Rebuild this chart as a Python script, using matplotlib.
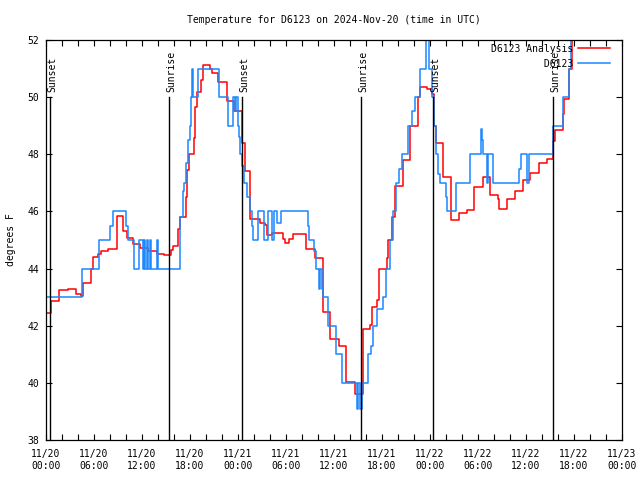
import numpy as np
import pandas as pd
import matplotlib
matplotlib.use("Agg")
import matplotlib.pyplot as plt
import matplotlib.dates as mdates

# hours since 2024-11-20 00:00 UTC, stepped values (deg F)
obs_hours = [0, 4.54, 6.63, 8.0, 8.34, 10.0, 10.19, 11.04, 11.66, 12.09, 12.25, 12.38,
             12.59, 12.71, 13.0, 13.09, 13.84, 14.04, 16.79, 17.09, 17.29, 17.5, 17.79,
             18.0, 18.13, 18.25, 18.34, 18.41, 19.04, 21.66, 22.79, 23.41, 23.63, 23.75,
             24.04, 24.16, 24.25, 24.54, 24.75, 25.16, 25.5, 25.79, 25.88, 26.54, 27.25,
             27.79, 28.21, 28.54, 28.91, 29.41, 32.71, 32.88, 33.5, 33.75, 34.13, 34.25,
             34.46, 34.63, 35.25, 36.21, 36.96, 38.88, 39.06, 39.19, 39.46, 40.21, 40.59,
             40.84, 41.41, 42.16, 42.5, 43.0, 43.41, 43.75, 44.16, 44.46, 45.29, 45.71,
             46.13, 46.75, 47.5, 47.91, 48.21, 48.5, 48.75, 49.04, 49.25, 50.0, 50.16,
             51.25, 53.0, 54.38, 54.5, 54.59, 55.09, 55.29, 55.84, 59.16, 59.38, 60.16,
             60.41, 63.41, 64.59, 65.41, 65.63, 66.13]
obs_temp = [43, 44, 45, 45.5, 46, 45.5, 45, 44, 45, 44, 45, 44,
            45, 44, 45, 44, 45, 44, 45.8, 46.7, 47, 47.7, 48.5,
            49, 50, 51, 50.7, 50, 51, 50, 49, 50, 49.5, 50,
            49, 48.6, 48, 47.6, 47, 46.5, 46, 45.5, 45, 46, 45,
            46, 45, 46, 45.6, 46, 45.5, 45, 44.6, 44, 43.3, 44,
            43.3, 43, 42, 41, 40, 39.1, 40, 39.1, 40, 41, 41.3,
            42, 42.6, 43, 44, 45, 46, 47, 47.5, 48, 49, 49.5,
            50, 51, 52.4, 51, 50, 49, 48, 47.3, 47, 46.5, 46,
            47, 48, 48.9, 48.5, 48, 47, 48, 47, 47.5, 48, 47,
            48, 49, 50, 51, 52.5, 52.5]

ana_hours = [0, 0.63, 1.66, 2.75, 3.71, 4.34, 4.66, 5.66, 5.88, 6.5, 6.88, 7.75, 8.88,
             9.63, 10.13, 10.88, 11.75, 12.75, 13.88, 14.75, 15.63, 15.88, 16.5, 16.75,
             17.46, 17.66, 17.88, 18.54, 18.66, 18.84, 19.38, 19.59, 20.5, 20.79, 21.54,
             22.59, 23.54, 24.54, 24.88, 25.5, 26.75, 27.38, 27.59, 28.21, 29.66, 29.88,
             30.41, 30.84, 32.5, 33.63, 34.66, 35.5, 36.66, 37.46, 38.63, 39.66, 40.5,
             40.79, 41.34, 41.66, 42.59, 42.79, 43.21, 43.63, 44.66, 45.5, 46.54, 46.75,
             47.59, 48.21, 48.5, 48.75, 49.59, 50.59, 51.66, 52.66, 53.54, 54.59, 55.5,
             56.54, 56.66, 57.59, 58.63, 59.59, 60.5, 61.66, 62.59, 63.41, 63.63, 64.59,
             64.79, 65.41, 65.75, 66.13]
ana_temp = [42.44, 42.88, 43.24, 43.28, 43.1, 43.05, 43.48, 44.0, 44.4, 44.5, 44.6, 44.7, 45.84,
            45.3, 45.07, 44.86, 44.72, 44.6, 44.5, 44.47, 44.65, 44.78, 45.4, 45.82,
            46.52, 47.45, 48.0, 48.56, 49.67, 50.19, 50.6, 51.13, 51.0, 50.86, 50.52,
            49.85, 49.5, 48.38, 47.4, 45.72, 45.6, 45.53, 45.18, 45.23, 45.05, 44.9,
            45.05, 45.2, 44.67, 44.36, 42.49, 41.52, 41.29, 40.04, 39.61, 41.88, 42.03,
            42.67, 42.9, 44.0, 44.36, 45.0, 45.8, 46.9, 47.8, 49.0, 50.0, 50.35,
            50.3, 50.1, 49.0, 48.4, 47.2, 45.7, 45.95, 46.05, 46.87, 47.2, 46.57,
            46.45, 46.07, 46.45, 46.7, 47.1, 47.35, 47.7, 47.85, 48.45, 48.85, 49.4,
            49.95, 51.0, 52.5, 52.5]

sun_hours = [0.5, 15.37, 24.5, 39.37, 48.37, 63.37]
sun_labels = ["Sunset", "Sunrise", "Sunset", "Sunrise", "Sunset", "Sunrise"]

base = pd.Timestamp("2024-11-20 00:00")
def to_time(h):
    return base + pd.to_timedelta(np.asarray(h, dtype=float), unit="h")

mono = "DejaVu Sans Mono"
plt.rcParams["font.family"] = mono
plt.rcParams["font.size"] = 7

fig = plt.figure(figsize=(6.4, 4.8), dpi=100)
ax = fig.add_axes([46 / 640, 40 / 480, 576 / 640, 400 / 480])

ax.step(to_time(ana_hours), ana_temp, where="post", color="#ff0000", lw=1.1,
        label="D6123 Analysis")
ax.step(to_time(obs_hours), obs_temp, where="post", color="#1a88ff", lw=1.1,
        label="         D6123")

for h, lab in zip(sun_hours, sun_labels):
    t = to_time([h])[0]
    ax.plot([t, t], [38, 50], color="black", lw=1.0)
    ax.annotate(lab, (t, 50), xytext=(-2, 4), textcoords="offset points",
                rotation=90, ha="left", va="bottom", fontsize=7)

ax.set_xlim(base, base + pd.Timedelta(hours=72))
ax.set_ylim(38, 52)
ax.set_yticks(np.arange(38, 53, 2))
ax.xaxis.set_major_locator(mdates.HourLocator(byhour=range(0, 24, 6)))
ax.xaxis.set_minor_locator(mdates.HourLocator(byhour=range(0, 24, 2)))
ax.xaxis.set_major_formatter(mdates.DateFormatter("%m/%d\n%H:%M"))
ax.tick_params(which="both", direction="in", top=True, right=True,
               length=4, width=0.8, labelsize=7)
ax.tick_params(axis="x", which="both", pad=6.5)
ax.tick_params(axis="y", pad=5)
for s in ax.spines.values():
    s.set_linewidth(0.9)

ax.set_ylabel("degrees F", fontsize=7, labelpad=8)
ax.set_title("Temperature for D6123 on 2024-Nov-20 (time in UTC)", fontsize=7, pad=12.5)

ax.legend(loc="upper right", bbox_to_anchor=(1 - 4 / 576, 1 + 4 / 400),
          frameon=False, markerfirst=False, fontsize=7,
          handlelength=3.3, handletextpad=0.5, labelspacing=0.5,
          borderpad=0.2, borderaxespad=0.6)

fig.savefig("out.png", dpi=100)
